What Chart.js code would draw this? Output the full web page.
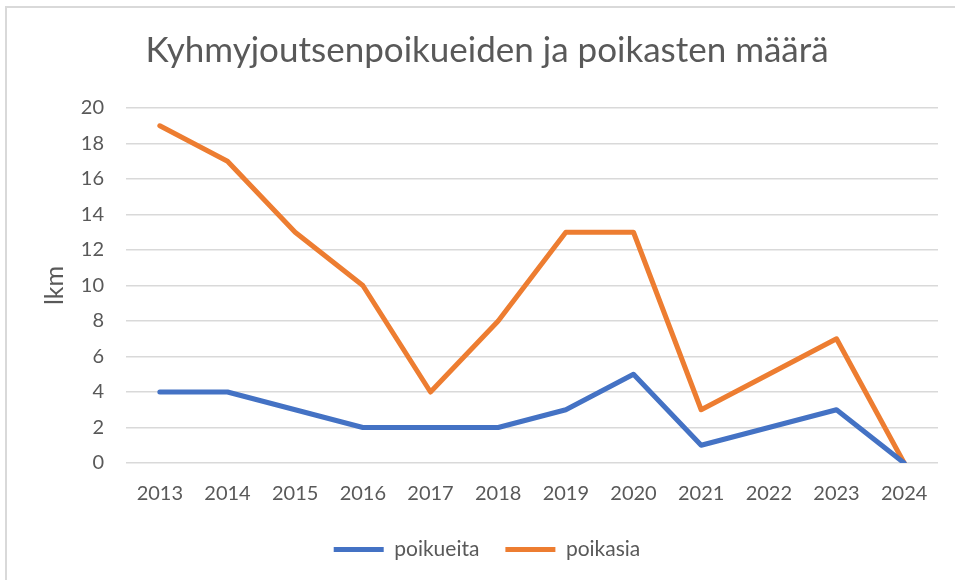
<!DOCTYPE html>
<html>
<head>
<meta charset="utf-8">
<script src="https://cdn.jsdelivr.net/npm/chart.js@4"></script>
<style>
  body { margin: 0; background: #fff; overflow: hidden; }
  #frame { position: absolute; left: 5px; top: 6px; width: 1000px; height: 650px; border: 2px solid #d9d9d9; }
  #wrap { position: absolute; left: 0; top: 0; width: 955px; height: 580px; }
</style>
</head>
<body>
<div id="frame"></div>
<div id="wrap"><canvas id="MyChart" width="955" height="580"></canvas></div>
<script>
'use strict';

// 年（横軸）
const years = ['2013','2014','2015','2016','2017','2018','2019','2020','2021','2022','2023','2024'];
// 系列データ
const poikueita = [4, 4, 3, 2, 2, 2, 3, 5, 1, 2, 3, 0];
const poikasia = [19, 17, 13, 10, 4, 8, 13, 13, 3, 5, 7, 0];
// 縦軸の目盛り
const yTicks = [0, 2, 4, 6, 8, 10, 12, 14, 16, 18, 20];

const fontName = 'Lato';
const grey = '#595959';

const data = {
  labels: years,
  datasets: [
    {
      label: 'poikueita',
      data: poikueita,
      borderColor: '#4472C4',
      backgroundColor: '#4472C4',
      borderWidth: 5,
      borderCapStyle: 'round',
      borderJoinStyle: 'round',
      pointRadius: 0,
      tension: 0
    },
    {
      label: 'poikasia',
      data: poikasia,
      borderColor: '#ED7D31',
      backgroundColor: '#ED7D31',
      borderWidth: 5,
      borderCapStyle: 'round',
      borderJoinStyle: 'round',
      pointRadius: 0,
      tension: 0
    }
  ]
};

const settei = {
  type: 'line',
  data: data,
  options: {
    responsive: false,
    animation: false,
    layout: { padding: { left: 36, right: 17, top: 0, bottom: 10 } },
    plugins: {
      title: {
        display: true,
        text: 'Kyhmyjoutsenpoikueiden ja poikasten määrä',
        color: grey,
        font: { family: fontName, size: 35, weight: 'normal' },
        padding: { top: 30, bottom: 36 }
      },
      legend: {
        position: 'bottom',
        labels: {
          color: grey,
          font: { family: fontName, size: 21 },
          usePointStyle: true,
          pointStyle: 'line',
          pointStyleWidth: 50,
          padding: 26
        }
      },
      tooltip: { enabled: false }
    },
    scales: {
      x: {
        offset: true,
        grid: { display: false, drawTicks: false },
        border: { display: false },
        ticks: { color: grey, font: { family: fontName, size: 20 }, padding: 19, maxRotation: 0 },
        afterFit: (scale) => { scale.height = scale.height - 12; }
      },
      y: {
        min: 0,
        max: 20,
        afterBuildTicks: (scale) => { scale.ticks = yTicks.map(v => ({ value: v })); },
        afterFit: (scale) => { scale.width = 90; },
        grid: { color: '#d9d9d9', lineWidth: 1.5, drawTicks: false },
        border: { display: false },
        ticks: { color: grey, font: { family: fontName, size: 20 }, padding: 22 },
        title: {
          display: true,
          text: 'lkm',
          color: grey,
          font: { family: fontName, size: 25 },
          padding: { top: 4, bottom: 0 }
        }
      }
    }
  }
};

const kekka = new Chart(document.getElementById('MyChart'), settei);
</script>
</body>
</html>
